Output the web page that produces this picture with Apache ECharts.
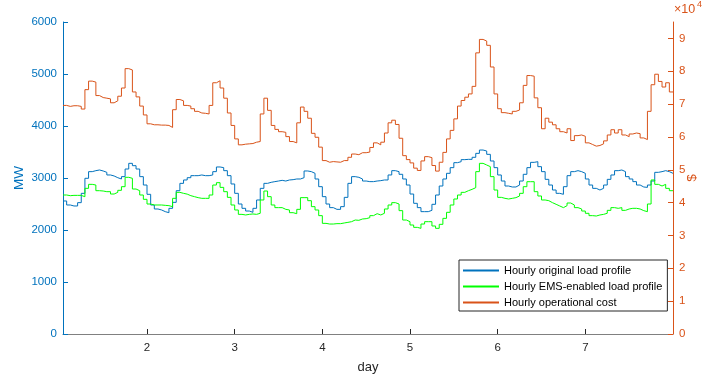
<!DOCTYPE html>
<html>
<head>
<meta charset="utf-8">
<script src="https://cdn.jsdelivr.net/npm/echarts@6/dist/echarts.min.js"></script>
<style>
  html, body { margin: 0; padding: 0; background: #ffffff; }
  #chart { width: 703px; height: 381px; }
</style>
</head>
<body>
<div id="chart"></div>
<script>
// Hourly values over one week (168 hours), hour 1 ends at day 1 + 1/24
const loadOriginal = [
  2558, 2481, 2462, 2462, 2526, 2705, 2994, 3122, 3141, 3154, 3135, 3109, 3058, 3039, 3006, 2981, 3026, 3173, 3282, 3237, 3173, 3026, 2865, 2686,
  2481, 2404, 2385, 2353, 2333, 2417, 2532, 2756, 2897, 2962, 3006, 3045, 3045, 3058, 3045, 3045, 3058, 3122, 3212, 3199, 3141, 3045, 2885, 2705,
  2500, 2417, 2365, 2340, 2417, 2577, 2801, 2897, 2917, 2930, 2942, 2955, 2942, 2962, 2968, 2981, 2981, 3006, 3135, 3122, 3090, 2981, 2833, 2641,
  2500, 2430, 2397, 2397, 2449, 2628, 2897, 3026, 3013, 2981, 2942, 2930, 2930, 2942, 2949, 2962, 2962, 3058, 3141, 3122, 3071, 2981, 2865, 2692,
  2513, 2430, 2353, 2353, 2378, 2494, 2673, 2846, 2981, 3090, 3199, 3295, 3314, 3353, 3359, 3359, 3398, 3474, 3538, 3519, 3455, 3327, 3199, 3058,
  2942, 2846, 2827, 2827, 2865, 2942, 3071, 3199, 3301, 3314, 3218, 3122, 2974, 2865, 2769, 2705, 2686, 2833, 3045, 3122, 3141, 3122, 3090, 2981,
  2865, 2801, 2769, 2801, 2865, 2974, 3058, 3141, 3154, 3122, 3026, 2981, 2930, 2865, 2827, 2820, 2865, 2942, 3109, 3122, 3141, 3122, 3090, 3090
];
const loadEms = [
  2673, 2660, 2666, 2666, 2666, 2640, 2801, 2878, 2865, 2756, 2750, 2737, 2737, 2692, 2724, 2763, 2833, 3013, 2994, 2788, 2756, 2673, 2590, 2500,
  2481, 2481, 2481, 2474, 2468, 2449, 2609, 2724, 2705, 2690, 2660, 2641, 2622, 2609, 2609, 2609, 2673, 2865, 2910, 2820, 2737, 2628, 2481, 2385,
  2301, 2289, 2301, 2308, 2301, 2321, 2577, 2750, 2641, 2481, 2430, 2430, 2397, 2385, 2333, 2314, 2397, 2622, 2622, 2564, 2449, 2385, 2276, 2128,
  2115, 2115, 2122, 2122, 2135, 2147, 2160, 2192, 2186, 2212, 2218, 2237, 2276, 2314, 2289, 2321, 2404, 2481, 2526, 2500, 2372, 2192, 2160, 2096,
  2051, 2032, 2115, 2160, 2160, 2077, 2032, 2109, 2224, 2340, 2481, 2596, 2673, 2724, 2756, 2782, 2814, 3122, 3282, 3250, 3218, 3026, 2769, 2628,
  2609, 2596, 2609, 2622, 2654, 2705, 2833, 2929, 2929, 2737, 2654, 2577, 2564, 2526, 2494, 2462, 2430, 2468, 2519, 2481, 2430, 2404, 2365, 2321,
  2276, 2269, 2289, 2301, 2321, 2378, 2430, 2417, 2430, 2378, 2404, 2417, 2417, 2404, 2372, 2353, 2500, 2962, 2878, 2846, 2878, 2801, 2756, 2756
];
const opCost = [
  69600, 69300, 69500, 69500, 69300, 68500, 74400, 77000, 76700, 72600, 72000, 71800, 71600, 70400, 71000, 72400, 74900, 80800, 80400, 73700, 72200, 69400, 66700, 64000,
  63700, 63700, 63600, 63600, 63500, 62900, 68300, 71400, 71000, 69600, 69400, 68600, 67800, 67300, 67200, 67000, 69600, 76500, 77100, 74900, 71800, 67300, 63500, 59400,
  57600, 57800, 57900, 58000, 58400, 58600, 67000, 71800, 68100, 63500, 62300, 61600, 61400, 60100, 58600, 58200, 64300, 69100, 67800, 65700, 61100, 59900, 56900, 52800,
  52300, 52500, 52400, 52300, 52800, 52800, 53800, 54800, 54600, 55200, 55200, 55400, 56800, 58200, 57600, 58400, 61200, 64300, 65100, 63800, 59600, 54300, 53100, 52100,
  50500, 49800, 52700, 54000, 53700, 51300, 49600, 52300, 55300, 59400, 62000, 65500, 69400, 71100, 72100, 73100, 75400, 85600, 89700, 89200, 87900, 81300, 73100, 68600,
  67400, 67200, 67000, 67800, 68200, 70400, 75700, 78700, 78500, 71900, 68900, 62500, 65700, 64500, 63700, 62500, 61600, 61200, 62500, 58900, 60400, 60600, 60200, 58200,
  57700, 57200, 57400, 57900, 58800, 60600, 62200, 61200, 62200, 60600, 60100, 60900, 61200, 61000, 59700, 59200, 67800, 75900, 79100, 76900, 75200, 76500, 73700, 73700
];
const dayTicks = [2, 3, 4, 5, 6, 7];
const costTicks = [0, 10000, 20000, 30000, 40000, 50000, 60000, 70000, 80000, 90000];
const seriesNames = ['Hourly original load profile', 'Hourly EMS-enabled load profile', 'Hourly operational cost'];

const BLUE = '#0072BD';
const GREEN = '#00FF00';
const ORANGE = '#D95319';
const DARK = '#262626';
const FONT = '"Liberation Sans", Arial, Helvetica, sans-serif';

// time stamp of each hourly sample, in days
const hours = loadOriginal.map((_, i) => 1 + (i + 1) / 24);
const toPairs = vals => vals.map((v, i) => [hours[i], v]);

const chart = echarts.init(document.getElementById('chart'), null, { renderer: 'canvas' });

const option = {
  animation: false,
  backgroundColor: '#ffffff',
  textStyle: { fontFamily: FONT },
  grid: { left: 63, right: 30, top: 22, bottom: 47, containLabel: false, outerBoundsMode: 'none' },
  xAxis: {
    type: 'value',
    min: hours[0],
    max: hours[hours.length - 1],
    name: 'day',
    nameLocation: 'middle',
    nameGap: 27,
    nameMoveOverlap: false,
    nameTextStyle: { color: DARK, fontSize: 13, fontFamily: FONT },
    axisLine: { show: true, onZero: false, lineStyle: { color: '#808080', width: 1.2 } },
    axisTick: { show: true, inside: true, length: 5, customValues: dayTicks, lineStyle: { color: DARK } },
    axisLabel: { customValues: dayTicks, color: DARK, fontSize: 11.5, margin: 8, fontFamily: FONT },
    splitLine: { show: false }
  },
  yAxis: [
    {
      type: 'value',
      position: 'left',
      min: 0,
      max: 6000,
      interval: 1000,
      name: 'MW',
      nameLocation: 'middle',
      nameRotate: 90,
      nameGap: 37,
      nameMoveOverlap: false,
      nameTextStyle: { color: BLUE, fontSize: 13.5, fontFamily: FONT },
      axisLine: { show: true, lineStyle: { color: BLUE, width: 1 } },
      axisTick: { show: true, inside: true, length: 5, lineStyle: { color: BLUE } },
      axisLabel: { color: BLUE, fontSize: 11.5, margin: 6, fontFamily: FONT, formatter: v => String(v) },
      splitLine: { show: false }
    },
    {
      type: 'value',
      position: 'right',
      min: 0,
      max: 95000,
      name: '$',
      nameLocation: 'middle',
      nameRotate: 90,
      nameGap: 12,
      nameMoveOverlap: false,
      nameTextStyle: { color: ORANGE, fontSize: 13.5, fontFamily: FONT },
      axisLine: { show: true, lineStyle: { color: ORANGE, width: 1 } },
      axisTick: { show: true, inside: true, length: 5, customValues: costTicks, lineStyle: { color: ORANGE } },
      axisLabel: {
        customValues: costTicks,
        color: ORANGE, fontSize: 11.5, margin: 6, fontFamily: FONT,
        formatter: v => String(Math.round(v / 10000))
      },
      splitLine: { show: false }
    }
  ],
  legend: {
    orient: 'vertical',
    left: 459,
    top: 260,
    data: seriesNames,
    itemWidth: 36,
    itemHeight: 12,
    itemGap: 5,
    itemTextGap: 3,
    padding: [5, 5, 3, 3],
    borderColor: DARK,
    borderWidth: 1,
    backgroundColor: '#ffffff',
    itemStyle: { opacity: 0 },
    textStyle: { color: '#000000', fontSize: 11, fontFamily: FONT }
  },
  graphic: [
    { type: 'text', left: 674, top: 3, style: { text: '×10', fill: ORANGE, font: '12.5px ' + FONT } },
    { type: 'text', left: 697, top: 0, style: { text: '4', fill: ORANGE, font: '9px ' + FONT } }
  ],
  series: [
    {
      name: seriesNames[0], type: 'line', yAxisIndex: 0, step: 'end', symbol: 'none',
      data: toPairs(loadOriginal),
      lineStyle: { color: BLUE, width: 1 }, itemStyle: { color: BLUE }
    },
    {
      name: seriesNames[1], type: 'line', yAxisIndex: 0, step: 'end', symbol: 'none',
      data: toPairs(loadEms),
      lineStyle: { color: GREEN, width: 1 }, itemStyle: { color: GREEN }
    },
    {
      name: seriesNames[2], type: 'line', yAxisIndex: 1, step: 'end', symbol: 'none',
      data: toPairs(opCost),
      lineStyle: { color: ORANGE, width: 1 }, itemStyle: { color: ORANGE }
    }
  ]
};

chart.setOption(option);
</script>
</body>
</html>
